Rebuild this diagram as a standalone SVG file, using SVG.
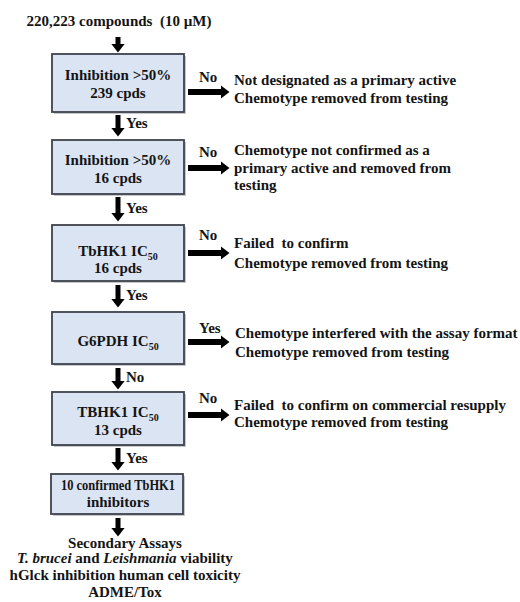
<svg xmlns="http://www.w3.org/2000/svg" width="520" height="602" viewBox="0 0 520 602">
<style>
text{font-family:"Liberation Serif","Times New Roman",serif;font-weight:bold;font-size:15px;fill:#141414}
.c{text-anchor:middle}
.box{fill:#dbe4f3;stroke:#3d424c;stroke-width:1.8}
.sh{fill:#c4c7cc}
.shaft{stroke:#000;fill:none;marker-end:url(#ah)}
.d{stroke-width:5}
.r{stroke-width:6}
.sub{font-size:10px}
.it{font-style:italic}
.pre{white-space:pre}
</style>
<defs>
<marker id="ah" markerUnits="userSpaceOnUse" markerWidth="9" markerHeight="14" viewBox="0 0 9 14" refX="0.5" refY="7" orient="auto"><path d="M0,0 L9,7 L0,14 z" fill="#000"/></marker>
</defs>
<rect width="520" height="602" fill="#fff"/>

<g id="start"><text class="c pre" x="119" y="26">220,223 compounds  (10 µM)</text></g>

<g id="box1">
<rect class="sh" x="54" y="56" width="132" height="58"/>
<rect class="box" x="52" y="54" width="132" height="58"/>
<text class="c" x="118" y="80">Inhibition &gt;50%</text>
<text class="c" x="118" y="98">239 cpds</text>
</g>
<g id="box2">
<rect class="sh" x="54" y="142" width="132" height="54"/>
<rect class="box" x="52" y="140" width="132" height="54"/>
<text class="c" x="118" y="165">Inhibition &gt;50%</text>
<text class="c" x="118" y="183">16 cpds</text>
</g>
<g id="box3">
<rect class="sh" x="54" y="227" width="132" height="56"/>
<rect class="box" x="52" y="225" width="132" height="56"/>
<text class="c" x="118" y="256">TbHK1 IC<tspan class="sub" dy="4">50</tspan></text>
<text class="c" x="118" y="273">16 cpds</text>
</g>
<g id="box4">
<rect class="sh" x="54" y="314" width="132" height="52"/>
<rect class="box" x="52" y="312" width="132" height="52"/>
<text class="c" x="118" y="346">G6PDH IC<tspan class="sub" dy="4">50</tspan></text>
</g>
<g id="box5">
<rect class="sh" x="54" y="394" width="132" height="53"/>
<rect class="box" x="52" y="392" width="132" height="53"/>
<text class="c" x="118" y="417">TBHK1 IC<tspan class="sub" dy="4">50</tspan></text>
<text class="c" x="118" y="435">13 cpds</text>
</g>
<g id="box6">
<rect class="sh" x="53" y="476" width="132" height="40"/>
<rect class="box" x="51" y="474" width="132" height="40"/>
<text class="c" x="118" y="490" style="font-size:14px" textLength="114" lengthAdjust="spacingAndGlyphs">10 confirmed TbHK1</text>
<text class="c" x="118" y="507">inhibitors</text>
</g>

<g id="out1">
<text x="234" y="85">Not designated as a primary active</text>
<text x="234" y="103">Chemotype removed from testing</text>
</g>
<g id="out2">
<text x="234" y="155">Chemotype not confirmed as a</text>
<text x="234" y="173">primary active and removed from</text>
<text x="234" y="190">testing</text>
</g>
<g id="out3">
<text class="pre" x="234" y="248">Failed  to confirm</text>
<text x="234" y="268">Chemotype removed from testing</text>
</g>
<g id="out4">
<text x="235" y="338">Chemotype interfered with the assay format</text>
<text x="235" y="357">Chemotype removed from testing</text>
</g>
<g id="out5">
<text class="pre" x="234" y="410">Failed  to confirm on commercial resupply</text>
<text x="234" y="427">Chemotype removed from testing</text>
</g>
<g id="secondary">
<text class="c" x="125" y="548">Secondary Assays</text>
<text class="c" x="125" y="563"><tspan class="it">T. brucei</tspan> and <tspan class="it">Leishmania</tspan> viability</text>
<text class="c" x="125" y="580">hGlck inhibition human cell toxicity</text>
<text class="c" x="125" y="597">ADME/Tox</text>
</g>

<g id="connectors">
<path class="shaft d" d="M118,37 V44"/>
<path class="shaft d" d="M118,115 V128"/>
<path class="shaft d" d="M118,197 V213"/>
<path class="shaft d" d="M118,285 V299"/>
<path class="shaft d" d="M118,368 V381"/>
<path class="shaft d" d="M118,448 V462"/>
<path class="shaft d" d="M118,518 V528"/>
<path class="shaft r" d="M188,92 H221"/>
<path class="shaft r" d="M188,168 H221"/>
<path class="shaft r" d="M188,253 H221"/>
<path class="shaft r" d="M188,342 H221"/>
<path class="shaft r" d="M188,415 H221"/>
<text x="126" y="128">Yes</text>
<text x="126" y="213">Yes</text>
<text x="126" y="300">Yes</text>
<text x="126" y="382">No</text>
<text x="126" y="463">Yes</text>
<text x="199" y="82">No</text>
<text x="199" y="157">No</text>
<text x="199" y="240">No</text>
<text x="199" y="333">Yes</text>
<text x="199" y="403">No</text>
</g>
</svg>
